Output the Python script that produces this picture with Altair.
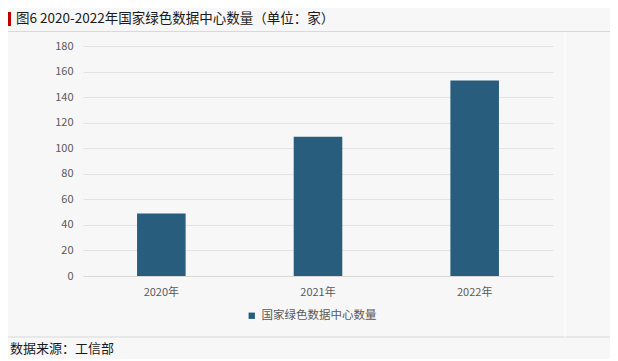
import altair as alt
import pandas as pd

# data
years = ["2020年", "2021年", "2022年"]
counts = [49, 109, 153]
series_name = "国家绿色数据中心数量"
y_ticks = [0, 20, 40, 60, 80, 100, 120, 140, 160, 180]
title_text = "图6 2020-2022年国家绿色数据中心数量（单位：家）"
source_text = "数据来源：工信部"

FONT = "Noto Sans CJK SC"
BAR = "#295d7d"
GRAY_TXT = "#595959"

df = pd.DataFrame({"year": years, "count": counts, "series": [series_name] * len(years)})

W, H = 470, 230
PAD_L, PAD_T = 75, 38
TOTAL_W, TOTAL_H = 602, 351

bars = alt.Chart(df).mark_bar(color=BAR).encode(
    x=alt.X("year:N", sort=years, title=None,
            scale=alt.Scale(paddingInner=0.69, paddingOuter=0.345),
            axis=alt.Axis(labelAngle=0, labelColor=GRAY_TXT, labelFontSize=11, labelFont=FONT,
                          ticks=False, domainColor="#d9d9d9", labelPadding=10, grid=False)),
    y=alt.Y("count:Q", title=None,
            scale=alt.Scale(domain=[0, 180], nice=False),
            axis=alt.Axis(values=y_ticks, labelColor=GRAY_TXT, labelFontSize=11, labelFont=FONT,
                          ticks=False, domain=False, labelPadding=10, gridColor="#e3e3e3")),
    color=alt.Color("series:N", scale=alt.Scale(range=[BAR]), title=None,
                    legend=alt.Legend(orient="none", legendX=163, legendY=264,
                                      symbolType="square", symbolSize=40,
                                      labelFontSize=11.5, labelFont=FONT, labelColor=GRAY_TXT,
                                      labelOffset=4, symbolStrokeWidth=0)),
)

one = pd.DataFrame({"k": [0]})

title = alt.Chart(one).mark_text(align="left", baseline="middle", fontSize=13.5, font=FONT,
                                 color="#1a1a1a").encode(
    x=alt.value(-67), y=alt.value(-27), text=alt.value(title_text))

red = alt.Chart(one).mark_rect(color="#c00000").encode(
    x=alt.value(-75), x2=alt.value(-72), y=alt.value(-34), y2=alt.value(-20))

top_line = alt.Chart(one).mark_rule(color="#d9d9d9", strokeWidth=1).encode(
    x=alt.value(-75), x2=alt.value(527), y=alt.value(-14.5))

bottom_line = alt.Chart(one).mark_rule(color="#d9d9d9", strokeWidth=1).encode(
    x=alt.value(-75), x2=alt.value(527), y=alt.value(291))

vert_line = alt.Chart(one).mark_rule(color="#ffffff", strokeWidth=1).encode(
    x=alt.value(482), y=alt.value(-14), y2=alt.value(291))

source = alt.Chart(one).mark_text(align="left", baseline="middle", fontSize=13, font=FONT,
                                  color="#1a1a1a").encode(
    x=alt.value(-73), y=alt.value(303), text=alt.value(source_text))

chart = alt.layer(top_line, bottom_line, vert_line, bars, title, red, source).properties(
    width=W, height=H,
    autosize=alt.AutoSizeParams(type="none"),
    padding={"left": PAD_L, "top": PAD_T, "right": TOTAL_W - PAD_L - W, "bottom": TOTAL_H - PAD_T - H},
    background="#f7f7f7",
).configure_view(stroke=None)

chart.save("out.html", embed_options={"renderer": "svg", "actions": False})
